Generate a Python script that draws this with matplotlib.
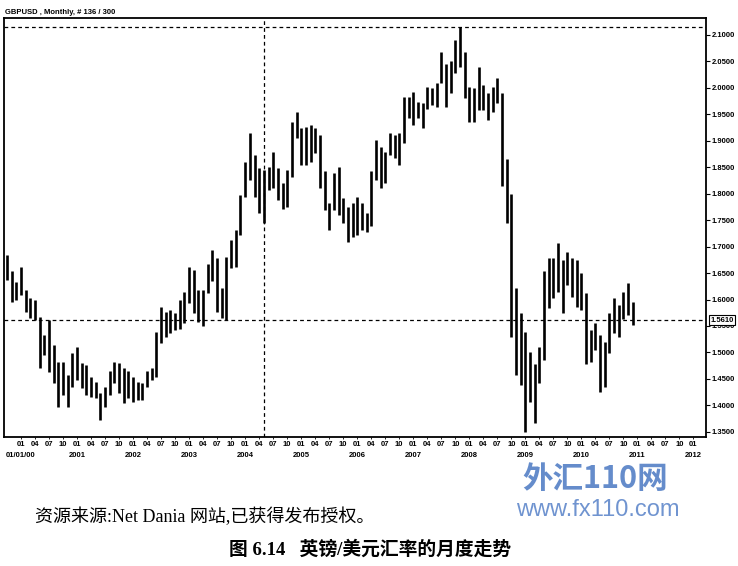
##GBP/USD monthly bars, Net Dania style
import numpy as np
import pandas as pd
import matplotlib
matplotlib.use('Agg')
import matplotlib.pyplot as plt
from matplotlib.transforms import blended_transform_factory

##monthly bars, Oct 1999 - Dec 2010
months = pd.period_range('1999-10', '2010-12', freq='M')
high = [1.684, 1.653, 1.634, 1.662, 1.618, 1.603, 1.600, 1.567, 1.533, 1.561,
        1.514, 1.482, 1.482, 1.457, 1.499, 1.511, 1.480, 1.476, 1.454, 1.445,
        1.423, 1.435, 1.464, 1.482, 1.480, 1.470, 1.464, 1.454, 1.445, 1.442,
        1.464, 1.470, 1.539, 1.586, 1.577, 1.580, 1.574, 1.599, 1.615, 1.662,
        1.656, 1.618, 1.618, 1.668, 1.694, 1.678, 1.622, 1.681, 1.712, 1.731,
        1.798, 1.860, 1.914, 1.873, 1.848, 1.845, 1.851, 1.879, 1.848, 1.820,
        1.845, 1.936, 1.955, 1.924, 1.927, 1.930, 1.924, 1.911, 1.842, 1.782,
        1.839, 1.851, 1.791, 1.775, 1.782, 1.794, 1.782, 1.763, 1.842, 1.902,
        1.889, 1.879, 1.914, 1.911, 1.914, 1.983, 1.983, 1.993, 1.974, 1.971,
        2.002, 1.999, 2.009, 2.068, 2.046, 2.050, 2.091, 2.116, 2.068, 2.002,
        1.999, 2.040, 2.005, 1.990, 2.002, 2.018, 1.990, 1.865, 1.800, 1.621,
        1.574, 1.539, 1.501, 1.479, 1.511, 1.653, 1.678, 1.678, 1.707, 1.675,
        1.690, 1.678, 1.675, 1.650, 1.612, 1.542, 1.555, 1.533, 1.520, 1.574,
        1.602, 1.590, 1.615, 1.632, 1.596]
low = [1.637, 1.596, 1.599, 1.608, 1.577, 1.565, 1.562, 1.470, 1.495, 1.463,
       1.442, 1.397, 1.419, 1.397, 1.435, 1.448, 1.433, 1.419, 1.416, 1.414,
       1.372, 1.397, 1.419, 1.442, 1.423, 1.404, 1.414, 1.407, 1.410, 1.410,
       1.435, 1.448, 1.454, 1.517, 1.530, 1.536, 1.542, 1.545, 1.555, 1.593,
       1.574, 1.558, 1.549, 1.612, 1.635, 1.577, 1.565, 1.561, 1.660, 1.662,
       1.722, 1.794, 1.826, 1.794, 1.763, 1.744, 1.807, 1.810, 1.788, 1.772,
       1.775, 1.832, 1.905, 1.854, 1.854, 1.860, 1.876, 1.810, 1.769, 1.731,
       1.769, 1.760, 1.744, 1.709, 1.719, 1.722, 1.731, 1.728, 1.738, 1.826,
       1.810, 1.820, 1.873, 1.867, 1.854, 1.895, 1.943, 1.930, 1.943, 1.924,
       1.961, 1.968, 1.964, 2.009, 1.964, 1.990, 2.028, 2.040, 1.980, 1.936,
       1.936, 1.958, 1.958, 1.939, 1.955, 1.971, 1.815, 1.745, 1.530, 1.457,
       1.438, 1.350, 1.407, 1.366, 1.442, 1.486, 1.583, 1.602, 1.615, 1.574,
       1.627, 1.605, 1.586, 1.580, 1.479, 1.482, 1.505, 1.426, 1.435, 1.498,
       1.536, 1.530, 1.564, 1.571, 1.552]

last_price = 1.5610
cross_month = pd.Period('2004-05', freq='M')
price_ticks = np.arange(1.35, 2.1001, 0.05)
month_names = ['01', '04', '07', '10']
year_names = ['01/01/00'] + [str(y) for y in range(2001, 2013)]

##months counted from Jan 2000
x = (months.year - 2000) * 12 + (months.month - 1)
cross_x = (cross_month.year - 2000) * 12 + cross_month.month - 1

W, H = 738, 566
fig = plt.figure(figsize=(W / 100, H / 100), dpi=100)
ax = fig.add_axes([4 / W, 1 - 437 / H, 702 / W, 419 / H])

ax.vlines(x, low, high, color='black', lw=1.9)

ax.set_xlim(-3.64, 146.68)
ax.set_ylim(1.3401, 2.1321)

dash = (0, (3, 2.5))
ax.axhline(max(high), color='black', lw=0.9, ls=dash)
ax.axhline(last_price, color='black', lw=0.9, ls=dash)
ax.axvline(cross_x, color='black', lw=0.9, ls=dash)

for s in ax.spines.values():
    s.set_linewidth(1.3)

lab = dict(family='Liberation Sans', weight='bold', size=5.5)

##price axis on the right
ax.yaxis.tick_right()
ax.set_yticks(price_ticks)
ax.set_yticklabels([f'{v:.4f}' for v in price_ticks], fontdict=lab)
ax.tick_params(axis='y', length=3, width=0.8, pad=1)

##month ticks + year row
xt = np.arange(0, 145, 3)
ax.set_xticks(xt)
ax.set_xticklabels([month_names[(i // 3) % 4] for i in xt], fontdict=lab)
ax.tick_params(axis='x', length=1.5, width=0.6, pad=1.5)
trans = blended_transform_factory(ax.transData, ax.transAxes)
for k, name in enumerate(year_names):
    ax.text(12 * k, -0.0453, name, transform=trans, ha='center', va='center', **lab)

##current price box
ptrans = blended_transform_factory(ax.transAxes, ax.transData)
ax.text(1.006, last_price, f'{last_price:.4f}', transform=ptrans, va='center', ha='left',
        bbox=dict(boxstyle='square,pad=0.15', fc='white', ec='black', lw=0.8), **lab)

fig.text(5 / W, 1 - 13 / H, 'GBPUSD , Monthly, # 136 / 300', va='center', **lab)

##watermark
fig.text(595 / W, 1 - 479 / H, '外汇110网', ha='center', va='center', fontsize=22,
         weight='bold', style='italic', color='#4a78c2', alpha=0.85, zorder=-1,
         family=['Noto Sans CJK SC', 'DejaVu Sans'])
fig.text(598 / W, 1 - 510 / H, 'www.fx110.com', ha='center', va='center', fontsize=17,
         color='#7094d0', family='Liberation Sans', zorder=-1)

##captions
fig.text(35 / W, 1 - 517 / H, '资源来源:Net Dania 网站,已获得发布授权。', va='center',
         fontsize=13, family=['Liberation Serif', 'Noto Sans CJK SC'])
fig.text(370 / W, 1 - 549 / H, '图 6.14   英镑/美元汇率的月度走势', ha='center', va='center',
         fontsize=13.5, weight='bold', family=['Liberation Serif', 'Noto Sans CJK SC'])

fig.savefig('out.png', dpi=100)
